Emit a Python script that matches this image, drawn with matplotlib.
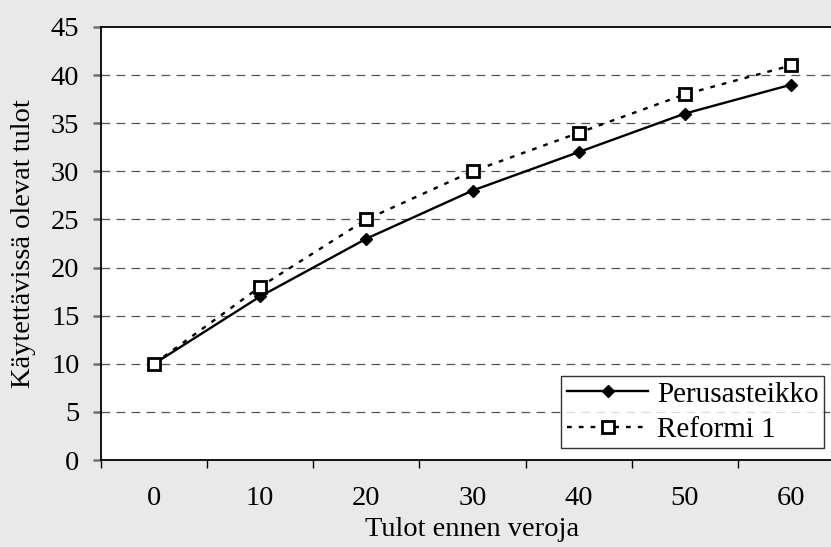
import matplotlib
matplotlib.use("Agg")
import matplotlib.pyplot as plt
import numpy as np

plt.rcParams['font.family'] = ['Liberation Serif', 'DejaVu Serif']

categories = [0, 10, 20, 30, 40, 50, 60]
perusasteikko = [10, 17, 23, 28, 32, 36, 39]
reformi_1 = [10, 18, 25, 30, 34, 38, 41]
y_ticks = [0, 5, 10, 15, 20, 25, 30, 35, 40, 45]

bg = '#e9e9e9'
fs = 20.5
W, H = 831, 547
fig = plt.figure(figsize=(W / 100, H / 100), dpi=100, facecolor=bg)
# axes extends slightly past the right edge of the figure
left, right, top, bottom = 101, 844, 27, 460
ax = fig.add_axes([left / W, (H - bottom) / H, (right - left) / W, (bottom - top) / H])
ax.set_facecolor('white')

x = np.arange(len(categories))
ax.plot(x, perusasteikko, color='black', lw=1.7, marker='D', ms=6.5,
        mfc='black', mec='black', label='Perusasteikko', zorder=4)
ax.plot(x, reformi_1, color='black', lw=1.7, ls=(0, (2.0, 3.0)), marker='s', ms=8,
        mfc='white', mec='black', mew=2.0, label='Reformi 1', zorder=5)

ax.set_xlim(-0.5, len(categories) - 0.5)
ax.set_ylim(0, 45)
ax.set_yticks(y_ticks)
ax.set_xticks(x)
ax.set_xticklabels([str(c) for c in categories])
ax.set_xticks(np.arange(-0.5, len(categories)), minor=True)
ax.tick_params(axis='x', which='major', length=0, labelsize=fs, pad=19)
ax.tick_params(axis='x', which='minor', length=5.5, width=1, color='black', direction='out')
ax.tick_params(axis='y', length=5.5, width=1.8, color='#707070', labelsize=fs, pad=10)

for yv in y_ticks[1:-1]:
    ax.axhline(yv, color='#555555', lw=0.9, ls=(0, (7, 5)), zorder=1)

for s in ['left', 'bottom', 'top', 'right']:
    ax.spines[s].set_color('black')
    ax.spines[s].set_linewidth(1.3)

ax.set_xlabel('Tulot ennen veroja', fontsize=fs, labelpad=4)
ax.set_ylabel('Käytettävissä olevat tulot', fontsize=fs, labelpad=11)

leg = ax.legend(loc='lower right', bbox_to_anchor=((824 - left) / (right - left), (bottom - 448) / (bottom - top)),
                bbox_transform=ax.transAxes, fontsize=21, frameon=True, fancybox=False,
                edgecolor='black', handlelength=2.8, handletextpad=0.3,
                borderpad=0.18, labelspacing=0.3, borderaxespad=0)
leg.get_frame().set_linewidth(1.0)

fig.savefig('out.png', dpi=100, facecolor=bg)
